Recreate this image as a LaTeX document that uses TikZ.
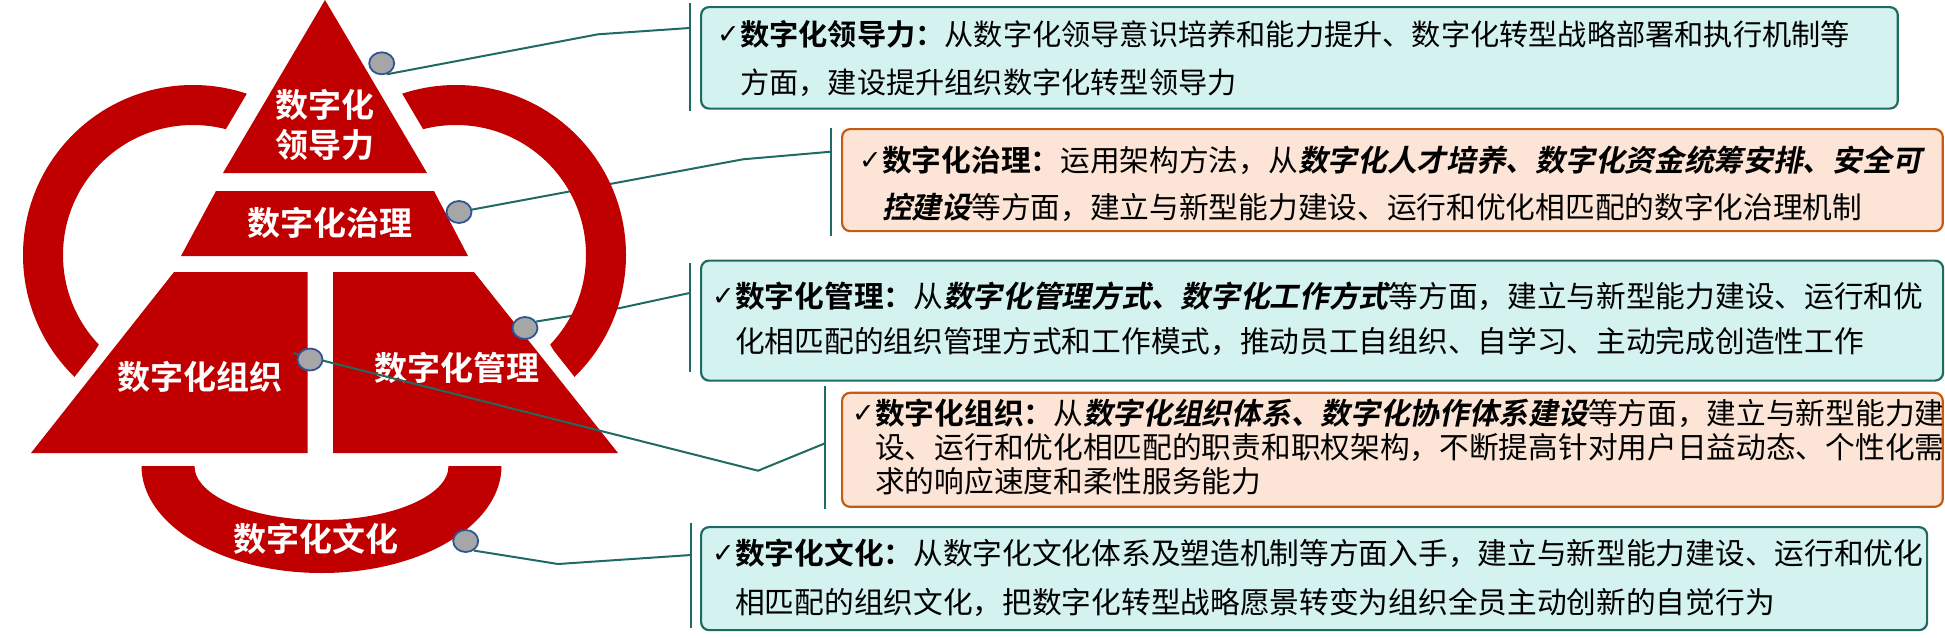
\documentclass[tikz,border=0pt]{standalone}
\usepackage{fontspec}
\usetikzlibrary{shapes.geometric}
\newfontfamily\cjk{Noto Sans CJK SC}
\newfontfamily\cjkb{Noto Sans CJK SC Bold}
\newfontfamily\cjkbi{Noto Sans CJK SC Bold}[FakeSlant=0.2]
\newfontfamily\symfont{DejaVu Sans}
\definecolor{pyrred}{HTML}{C00000}
\definecolor{tealline}{HTML}{1F6B62}
\definecolor{tealfill}{HTML}{D4F2EF}
\definecolor{orangeline}{HTML}{C55A11}
\definecolor{orangefill}{HTML}{FCE5D6}
\definecolor{dotfill}{HTML}{A6A6A6}
\definecolor{dotline}{HTML}{2F5597}
\def\tick{\llap{\raisebox{2pt}{\symfont\fontsize{27}{27}\selectfont ✓}\hspace{0.5pt}}}
\pgfdeclarelayer{base}
\pgfdeclarelayer{links}
\pgfsetlayers{base,links,main}
\tikzset{
	tier/.style={fill=pyrred},
	tierlabel/.style={text=white, align=center, inner sep=0, font=\cjkb\fontsize{33}{40}\selectfont},
	ring/.style={draw=pyrred, line width=40},
	dot/.style={ellipse, fill=dotfill, draw=dotline, line width=1.8, minimum width=25, minimum height=22, inner sep=0},
	link/.style={draw=tealline, line width=2},
	tealbox/.style={draw=tealline, fill=tealfill, line width=2.2, rounded corners=8, inner sep=0, anchor=north west},
	orangebox/.style={draw=orangeline, fill=orangefill, line width=2.2, rounded corners=8, inner sep=0, anchor=north west},
	boxtext/.style={anchor=west, align=left, inner sep=0, font=\cjk\fontsize{29.7}{47}\selectfont}
}

\begin{document}
\begin{tikzpicture}[x=1pt, y=-1pt]
			\useasboundingbox (0,0) rectangle (1945,637);
			
			%%% pyramid
			\begin{pgfonlayer}{base}
			\fill[tier] (325,0) -- (427,173) -- (223,173) -- cycle;
			\fill[tier] (216,191) -- (434,191) -- (468,256) -- (181,256) -- cycle;
			\fill[tier] (174,272) -- (307.5,272) -- (307.5,453) -- (31,453) -- cycle;
			\fill[tier] (333,272) -- (474,272) -- (618,453) -- (333,453) -- cycle;
			
			\fill[pyrred] (141.5,466) arc[start angle=180, end angle=0, x radius=180, y radius=107]
				-- (448.5,466) arc[start angle=0, end angle=180, x radius=127, y radius=54] -- cycle;
			
			\node[tierlabel] (lead) at (325,124.5) {数字化\\领导力};
			\node[tierlabel] (gov) at (330,223) {数字化治理};
			\node[tierlabel] (org) at (200,377) {数字化组织};
			\node[tierlabel] (mgmt) at (456.5,368) {数字化管理};
			\node[tierlabel] (cult) at (316,539) {数字化文化};
			\end{pgfonlayer}
			
			%%% side rings
			\begin{scope}
				\clip (337.5,-60) -- (95.3,350.5) -- (-149.2,660) -- (-300,660) -- (-300,-60) -- cycle;
				\draw[ring] (193,255) circle (150);
			\end{scope}
			\begin{scope}
				\clip (311.5,-60) -- (553.7,350.5) -- (798.2,660) -- (950,660) -- (950,-60) -- cycle;
				\draw[ring] (456,255) circle (150);
			\end{scope}
			
			\node[dot] (d1) at (381.7,63.3) {};
			\node[dot] (d2) at (459,212) {};
			\node[dot] (d3) at (525,328) {};
			\node[dot] (d4) at (310,359.5) {};
			\node[dot] (d5) at (465.7,541) {};
			
			%%% boxes
			\node[tealbox, minimum width=1196.7, minimum height=101.5] (box1) at (700,6) {};
			\node[orangebox, minimum width=1100.7, minimum height=102] (box2) at (841,128) {};
			\node[tealbox, minimum width=1242, minimum height=120] (box3) at (700,259.5) {};
			\node[orangebox, minimum width=1100.7, minimum height=114] (box4) at (841,391.7) {};
			\node[tealbox, minimum width=1226, minimum height=103] (box5) at (700,526) {};
			
			\node[boxtext, font=\cjk\fontsize{29.2}{48}\selectfont] (t1) at (740,59) {\tick{\cjkb 数字化领导力：}从数字化领导意识培养和能力提升、数字化转型战略部署和执行机制等\\方面，建设提升组织数字化转型领导力};
			\node[boxtext] (t2) at (882,183.5) {\tick{\cjkb 数字化治理：}运用架构方法，从{\cjkbi 数字化人才培养、数字化资金统筹安排、安全可}\\{\cjkbi 控建设}等方面，建立与新型能力建设、运行和优化相匹配的数字化治理机制};
			\node[boxtext, font=\cjk\fontsize{29.7}{45.5}\selectfont] (t3) at (735,318.7) {\tick{\cjkb 数字化管理：}从{\cjkbi 数字化管理方式、数字化工作方式}等方面，建立与新型能力建设、运行和优\\化相匹配的组织管理方式和工作模式，推动员工自组织、自学习、主动完成创造性工作};
			\node[boxtext, font=\cjk\fontsize{29.7}{34}\selectfont] (t4) at (875,447) {\tick{\cjkb 数字化组织：}从{\cjkbi 数字化组织体系、数字化协作体系建设}等方面，建立与新型能力建\\设、运行和优化相匹配的职责和职权架构，不断提高针对用户日益动态、个性化需\\求的响应速度和柔性服务能力};
			\node[boxtext, font=\cjk\fontsize{29.7}{49}\selectfont] (t5) at (735,577.5) {\tick{\cjkb 数字化文化：}从数字化文化体系及塑造机制等方面入手，建立与新型能力建设、运行和优化\\相匹配的组织文化，把数字化转型战略愿景转变为组织全员主动创新的自觉行为};
			
			%%% brackets and links
			\coordinate (k1) at (689.5,28);
			\coordinate (k2) at (831,151.7);
			\coordinate (k3) at (689.5,293);
			\coordinate (k4) at (825,443.3);
			\coordinate (k5) at (691,555);
			\coordinate (s4) at (293,353);
			
			\begin{pgfonlayer}{links}
			\draw[link] (689.5,3) -- (689.5,110.7);
			\draw[link] (831,127.7) -- (831,236);
			\draw[link] (689.5,263) -- (689.5,372);
			\draw[link] (825,386) -- (825,509);
			\draw[link] (691,523) -- (691,628);
			
			\draw[link] (d1.-65) -- (598,34.3) -- (k1);
			\draw[link] (d2.center) -- (743,159.3) -- (k2);
			\draw[link] (d3.30) -- (620,308) -- (k3);
			\draw[link] (s4) -- (758,470.7) -- (k4);
			\draw[link] (d5.-50) -- (558,564) -- (k5);
			\end{pgfonlayer}
			
		\end{tikzpicture}
\end{document}
